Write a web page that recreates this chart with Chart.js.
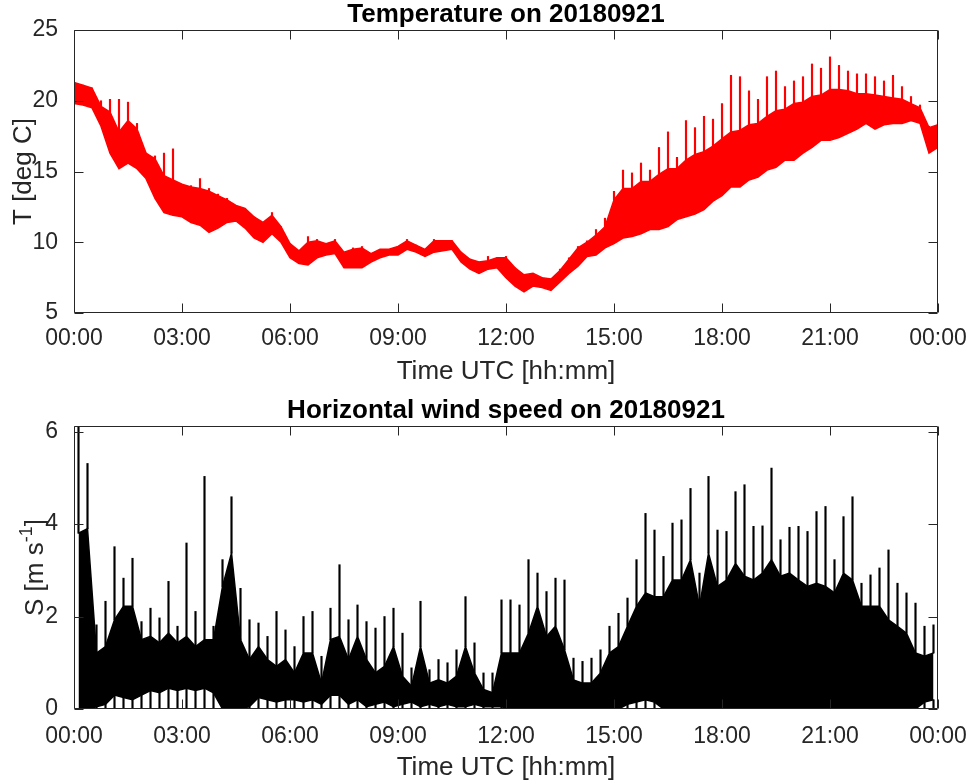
<!DOCTYPE html>
<html>
<head>
<meta charset="utf-8">
<title>Temperature and wind speed on 20180921</title>
<script src="https://cdn.jsdelivr.net/npm/chart.js@4/dist/chart.umd.min.js"></script>
<style>
  html, body { margin: 0; padding: 0; background: #fff; }
  .panel { position: absolute; left: 0; width: 972px; height: 391px; }
  #temp-panel { top: 0; }
  #wind-panel { top: 391px; }
</style>
</head>
<body>
<div class="panel" id="temp-panel"><canvas id="temp-chart"></canvas></div>
<div class="panel" id="wind-panel"><canvas id="wind-chart"></canvas></div>
<script>
// ── Axis ticks ──
const timeTicks = [0, 3, 6, 9, 12, 15, 18, 21, 24];   // hours UTC
const tempTicks = [5, 10, 15, 20, 25];
const windTicks = [0, 2, 4, 6];

// ── Temperature, sampled every 15 min from 00:00 to 24:00 (97 samples) ──
// low / high edge of the dense trace, and the tallest excursion
const tempLow = [
  19.8, 19.7, 19.5, 18.2, 16.3, 15.2, 15.6, 15.2,
  14.5, 13.1, 12.1, 11.9, 11.8, 11.4, 11.2, 10.7,
  11.0, 11.4, 11.5, 11.0, 10.3, 10.0, 10.6, 10.0,
  8.9, 8.5, 8.4, 8.9, 9.1, 9.2, 8.2, 8.2,
  8.2, 8.6, 8.9, 9.1, 9.1, 9.5, 9.3, 9.0,
  9.3, 9.4, 9.5, 8.6, 8.1, 7.8, 8.1, 8.2,
  7.5, 6.9, 6.5, 6.9, 6.8, 6.6, 7.2, 7.8,
  8.3, 9.0, 9.1, 9.6, 9.9, 10.3, 10.4, 10.6,
  10.9, 10.9, 11.1, 11.6, 11.8, 12.0, 12.3, 12.9,
  13.3, 13.9, 13.9, 14.4, 14.6, 15.1, 15.3, 15.8,
  15.8, 16.3, 16.7, 17.2, 17.2, 17.4, 17.7, 18.0,
  18.4, 18.0, 18.3, 18.4, 18.4, 18.6, 18.4, 16.3,
  16.7
];
const tempHigh = [
  21.3, 21.1, 20.9, 19.6, 19.2, 17.8, 18.6, 18.0,
  16.3, 15.9, 14.7, 14.4, 14.1, 13.9, 13.8, 13.6,
  13.3, 13.0, 12.6, 12.4, 11.8, 11.4, 11.9, 11.1,
  9.9, 9.4, 10.0, 10.1, 9.9, 10.1, 9.3, 9.5,
  9.6, 9.2, 9.5, 9.5, 9.7, 10.1, 9.8, 9.5,
  10.1, 10.1, 10.1, 9.3, 8.8, 8.6, 8.7, 8.9,
  8.9, 8.2, 7.7, 7.8, 7.5, 7.4, 8.0, 8.8,
  9.6, 10.0, 10.5, 11.1, 13.0, 13.8, 13.8, 14.3,
  14.3, 14.8, 15.2, 15.2, 15.8, 16.2, 16.4, 16.8,
  17.3, 17.8, 17.9, 18.3, 18.4, 18.9, 19.3, 19.4,
  19.8, 19.9, 20.3, 20.4, 20.8, 20.8, 20.7, 20.5,
  20.5, 20.4, 20.3, 20.2, 20.1, 19.8, 19.5, 18.1,
  18.3
];
const tempPeak = [
  21.3, 21.1, 20.9, 20.0, 20.1, 20.1, 19.9, 18.4,
  16.3, 16.1, 16.3, 16.6, 14.1, 14.0, 14.5, 13.8,
  13.4, 13.1, 12.6, 12.4, 11.8, 11.4, 12.1, 11.1,
  9.9, 9.4, 10.4, 10.2, 9.9, 10.2, 9.3, 9.6,
  9.7, 9.2, 9.5, 9.5, 9.7, 10.2, 9.8, 9.5,
  10.2, 10.1, 10.1, 9.3, 8.8, 8.6, 9.0, 8.9,
  9.0, 8.2, 7.7, 7.8, 7.5, 7.4, 8.1, 8.9,
  9.7, 10.1, 10.9, 11.7, 13.6, 15.1, 14.9, 15.6,
  15.1, 16.7, 17.8, 16.0, 18.6, 18.1, 18.9, 18.7,
  19.8, 21.8, 21.7, 20.7, 20.1, 21.7, 22.1, 21.0,
  21.4, 21.7, 22.6, 22.3, 23.1, 22.5, 22.1, 21.9,
  21.9, 21.7, 21.4, 21.8, 21.0, 20.3, 19.7, 18.2,
  18.4
];

// ── Horizontal wind speed per 15-min interval (96 intervals) ──
// lower edge of the dense trace, top of the dense trace, gust peak
const windLow = [
  0, 0, 0.05, 0.1, 0.3, 0.25, 0.2, 0.3,
  0.4, 0.35, 0.45, 0.4, 0.45, 0.4, 0.45, 0.35,
  0, 0, 0, 0.05, 0.25, 0.2, 0.15, 0.2,
  0.2, 0.15, 0.2, 0.1, 0.3, 0.3, 0.1, 0.2,
  0.05, 0.1, 0.15, 0.05, 0.1, 0.15, 0.05, 0.1,
  0.05, 0.1, 0.05, 0.05, 0.1, 0.05, 0.05, 0.05,
  0, 0, 0, 0, 0, 0, 0, 0,
  0, 0, 0, 0, 0, 0.1, 0.15, 0.2,
  0.15, 0, 0, 0, 0, 0, 0, 0,
  0, 0, 0, 0, 0, 0, 0, 0,
  0, 0, 0, 0, 0, 0, 0, 0,
  0, 0, 0, 0, 0, 0, 0.15, 0.2
];
const windCore = [
  3.8, 3.9, 1.21, 1.35, 1.93, 2.22, 2.22, 1.5,
  1.57, 1.43, 1.64, 1.43, 1.57, 1.35, 1.5, 1.5,
  2.65, 3.37, 1.5, 1.07, 1.35, 1.07, 0.92, 1.07,
  0.78, 1.21, 1.21, 0.56, 1.5, 1.57, 1.07, 1.57,
  1.07, 0.78, 0.92, 1.35, 0.71, 0.49, 1.35, 0.56,
  0.63, 0.56, 0.71, 1.35, 0.78, 0.42, 0.35, 1.21,
  1.21, 1.21, 1.64, 2.22, 1.57, 1.79, 1.28, 0.63,
  0.56, 0.56, 0.78, 1.21, 1.35, 1.79, 2.22, 2.51,
  2.43, 2.43, 2.79, 2.79, 3.23, 2.22, 3.37, 2.65,
  2.79, 3.15, 2.87, 2.79, 2.94, 3.23, 2.87, 2.94,
  2.79, 2.65, 2.72, 2.65, 2.51, 2.94, 2.79, 2.22,
  2.22, 2.22, 1.93, 1.79, 1.64, 1.21, 1.14, 1.21
];
const windPeak = [
  6.1, 5.31, 1.82, 2.33, 3.51, 2.83, 3.26, 1.89,
  2.18, 1.97, 2.76, 1.79, 3.59, 2.11, 5.03, 1.79,
  3.23, 4.59, 2.61, 1.93, 1.86, 1.57, 2.11, 1.71,
  1.35, 2.0, 2.11, 1.14, 2.18, 3.12, 1.93, 2.25,
  1.89, 1.75, 2.0, 2.18, 1.64, 0.89, 2.33, 0.85,
  1.07, 1.0, 1.28, 2.43, 1.43, 0.78, 0.78, 2.36,
  2.36, 2.25, 3.23, 2.94, 2.54, 2.83, 2.79, 1.1,
  1.03, 1.1, 1.28, 1.79, 2.07, 2.4, 3.23, 4.23,
  3.87, 3.3, 4.02, 4.09, 4.77, 2.94, 5.03, 3.87,
  3.84, 4.7, 4.85, 3.95, 3.96, 5.21, 3.66, 3.93,
  3.95, 3.84, 4.27, 4.38, 3.23, 4.16, 4.59, 2.72,
  2.9, 3.05, 3.44, 2.72, 2.51, 2.29, 1.79, 1.82
];

const STEP = 0.25;  // hours per sample
const axisColor = '#262626';
const fontFamily = '"Liberation Sans", Arial, Helvetica, sans-serif';

Chart.defaults.font.family = fontFamily;
Chart.defaults.color = axisColor;

const hhmm = v => String(v % 24).padStart(2, '0') + ':00';

// box, inward ticks on all four sides, and the text around each panel
const axesFrame = {
  id: 'axesFrame',
  afterDatasetsDraw(chart, args, opts) {
    const { ctx, chartArea: a } = chart;
    const xs = chart.scales.x, ys = chart.scales.y;
    const snap = v => Math.round(v) + 0.5;
    const L = snap(a.left), R = snap(a.right) - 1, T = snap(a.top), B = snap(a.bottom) - 1;
    const tick = 9;

    ctx.save();
    ctx.strokeStyle = axisColor;
    ctx.lineWidth = 1;
    ctx.beginPath();
    ctx.rect(L, T, R - L, B - T);
    opts.xTicks.forEach(v => {
      const px = snap(xs.getPixelForValue(v));
      ctx.moveTo(px, B); ctx.lineTo(px, B - tick);
      ctx.moveTo(px, T); ctx.lineTo(px, T + tick);
    });
    opts.yTicks.forEach(v => {
      const py = snap(ys.getPixelForValue(v));
      ctx.moveTo(L, py); ctx.lineTo(L + tick, py);
      ctx.moveTo(R, py); ctx.lineTo(R - tick, py);
    });
    ctx.stroke();

    const cx = (a.left + a.right) / 2;
    ctx.textAlign = 'center';
    ctx.textBaseline = 'alphabetic';

    // panel title
    ctx.fillStyle = '#000';
    ctx.font = 'bold 26px ' + fontFamily;
    ctx.fillText(opts.title, cx, a.top - 8.5);

    // x axis title
    ctx.fillStyle = axisColor;
    ctx.font = '26px ' + fontFamily;
    ctx.fillText(opts.xTitle, cx, a.bottom + opts.xTitleGap);

    // y axis title, rotated, with optional superscript part
    ctx.translate(opts.yTitleX, (a.top + a.bottom) / 2);
    ctx.rotate(-Math.PI / 2);
    ctx.textAlign = 'left';
    const parts = opts.yTitle;
    const fontOf = p => (p.sup ? '18px ' : '26px ') + fontFamily;
    let total = 0;
    parts.forEach(p => { ctx.font = fontOf(p); total += ctx.measureText(p.text).width; });
    let x = -total / 2;
    parts.forEach(p => {
      ctx.font = fontOf(p);
      ctx.fillText(p.text, x, p.sup ? -11 : 0);
      x += ctx.measureText(p.text).width;
    });
    ctx.restore();
  }
};

function timeAxis(gap, height) {
  return {
    type: 'linear',
    min: 0,
    max: 24,
    offset: false,
    afterBuildTicks: s => { s.ticks = timeTicks.map(v => ({ value: v })); },
    afterFit: s => {
      s.height = height;
      s.paddingLeft = 0;
      s.paddingRight = 0;
    },
    grid: { display: false },
    border: { display: false },
    ticks: {
      callback: v => hhmm(v),
      color: axisColor,
      font: { size: 23 },
      padding: gap,
      maxRotation: 0,
      autoSkip: false
    }
  };
}

function valueAxis(min, max, ticks) {
  return {
    type: 'linear',
    min: min,
    max: max,
    afterBuildTicks: s => { s.ticks = ticks.map(v => ({ value: v })); },
    afterFit: s => {
      s.width = 74;
      s.paddingTop = 0;
      s.paddingBottom = 0;
    },
    grid: { display: false },
    border: { display: false },
    ticks: {
      callback: v => String(v),
      color: axisColor,
      font: { size: 23 },
      padding: 8
    }
  };
}

const sharedOptions = {
  responsive: true,
  maintainAspectRatio: false,
  animation: false,
  events: [],
  plugins: { legend: { display: false }, tooltip: { enabled: false } }
};

// filled band between two edge series
function edge(data, color, fill) {
  return {
    type: 'line',
    data: data,
    borderColor: color,
    backgroundColor: color,
    borderWidth: 1.5,
    pointRadius: 0,
    tension: 0,
    fill: fill
  };
}

// thin vertical excursions, one per sample
function spikes(data, color) {
  return {
    type: 'bar',
    data: data,
    backgroundColor: color,
    barThickness: 1.5,
    grouped: false
  };
}

// ── Temperature panel ──
const tempX = i => i * STEP;
const tempLowPts = tempLow.map((v, i) => ({ x: tempX(i), y: v }));
const tempHighPts = tempHigh.map((v, i) => ({ x: tempX(i), y: v }));
const tempSpikes = tempPeak.map((p, i) => ({ x: tempX(i), y: [tempHigh[i], p] }));

new Chart(document.getElementById('temp-chart'), {
  type: 'bar',
  data: {
    datasets: [
      edge(tempLowPts, '#ff0000', false),
      edge(tempHighPts, '#ff0000', '-1'),
      spikes(tempSpikes, '#ff0000')
    ]
  },
  options: {
    ...sharedOptions,
    layout: { padding: { top: 30, right: 34, bottom: 0, left: 0 } },
    scales: {
      x: timeAxis(4, 78),
      y: valueAxis(5, 25, tempTicks)
    },
    plugins: {
      ...sharedOptions.plugins,
      axesFrame: {
        title: 'Temperature on 20180921',
        xTitle: 'Time UTC [hh:mm]',
        xTitleGap: 66,
        yTitle: [{ text: 'T [deg C]' }],
        yTitleX: 31,
        xTicks: timeTicks,
        yTicks: tempTicks
      }
    }
  },
  plugins: [axesFrame]
});

// ── Wind speed panel ──
const windX = i => i * STEP + STEP / 2;
const windLowPts = windLow.map((v, i) => ({ x: windX(i), y: v }));
const windCorePts = windCore.map((v, i) => ({ x: windX(i), y: v }));
const windGusts = windPeak.map((p, i) => ({ x: windX(i), y: [windCore[i], p] }));
const windDips = windLow.map((lo, i) => ({ x: windX(i), y: [0, lo] }));

new Chart(document.getElementById('wind-chart'), {
  type: 'bar',
  data: {
    datasets: [
      edge(windLowPts, '#000000', false),
      edge(windCorePts, '#000000', '-1'),
      spikes(windGusts, '#000000'),
      spikes(windDips, '#000000')
    ]
  },
  options: {
    ...sharedOptions,
    layout: { padding: { top: 35, right: 34, bottom: 0, left: 0 } },
    scales: {
      x: timeAxis(6, 73),
      y: valueAxis(0, 6.12, windTicks)
    },
    plugins: {
      ...sharedOptions.plugins,
      axesFrame: {
        title: 'Horizontal wind speed on 20180921',
        xTitle: 'Time UTC [hh:mm]',
        xTitleGap: 66,
        yTitle: [{ text: 'S [m s' }, { text: '-1', sup: true }, { text: ']' }],
        yTitleX: 43,
        xTicks: timeTicks,
        yTicks: windTicks
      }
    }
  },
  plugins: [axesFrame]
});
</script>
</body>
</html>
